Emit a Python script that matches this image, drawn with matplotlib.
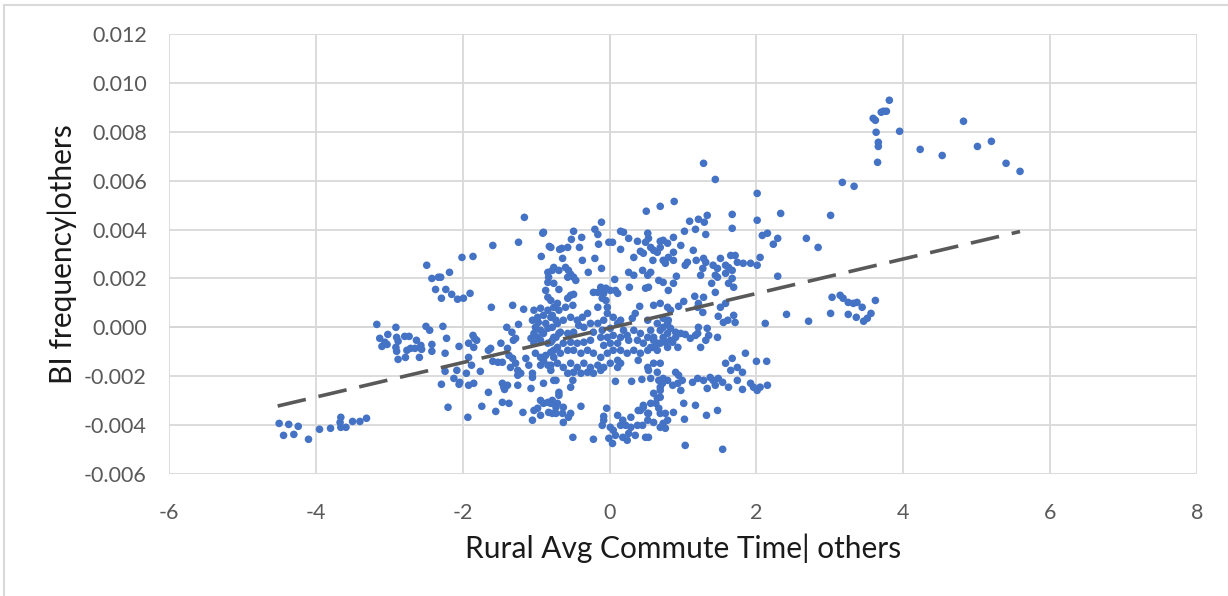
import matplotlib
matplotlib.use("Agg")
import matplotlib.pyplot as plt
from matplotlib.lines import Line2D
from matplotlib.ticker import FuncFormatter
import numpy as np

# residual scatter: rural commute time vs BI frequency (both partialled on others)

# far-left tail
tail_x = [-4.50, -4.37, -4.24, -4.44, -4.30, -4.10, -3.95, -3.80, -3.66, -3.67,
          -3.66, -3.59, -3.50, -3.40, -3.31]
tail_y = [-0.00393, -0.00397, -0.00405, -0.00442, -0.00438, -0.00458, -0.00417,
          -0.00413, -0.00368, -0.00389, -0.00409, -0.00409, -0.00385, -0.00385,
          -0.00372]

# left group, x from about -3.2 to -2.3
left_x = [-2.49, -2.42, -2.33, -2.37, -3.17, -2.91, -2.50, -2.45, -3.13, -3.02,
          -3.06, -3.10, -3.03, -2.90, -2.88, -2.91, -2.90, -2.79, -2.73, -2.76,
          -2.71, -2.63, -2.65, -2.57, -2.56, -2.78, -2.88, -2.59, -2.42, -2.42]
left_y = [0.00254, 0.00200, 0.00205, 0.00155, 0.00012, 0.00000, 0.00004, -0.00012,
          -0.00045, -0.00029, -0.00061, -0.00078, -0.00070, -0.00041, -0.00057,
          -0.00082, -0.00098, -0.00037, -0.00037, -0.00094, -0.00086, -0.00053,
          -0.00086, -0.00074, -0.00090, -0.00123, -0.00131, -0.00123, -0.00070,
          -0.00098]

# x from about -2.3 to -0.7
mid_left_x = [-1.16, -0.90, -0.91, -1.59, -1.24, -0.82, -2.01, -1.86, -0.93, -0.68,
              -2.18, -2.30, -2.23, -2.15, -2.07, -1.99, -1.90, -2.29, -1.61, -1.32,
              -1.17, -1.24, -1.40, -2.27, -2.22, -2.05, -1.86, -1.84, -1.92, -1.85,
              -1.81, -2.24, -1.92, -1.88, -2.08, -1.95, -2.24, -2.12, -2.04, -2.05,
              -1.92, -1.85, -1.76, -2.29, -1.65, -1.62, -1.48, -1.59, -1.52, -1.46,
              -1.33, -1.31, -1.28, -1.39, -1.37, -1.32, -1.28, -1.35, -1.25, -1.21,
              -1.25, -1.46, -1.44, -1.43, -1.39, -1.25, -1.65, -2.20, -1.93, -1.74,
              -1.55, -1.46, -1.37, -1.18, -1.10, -1.14,
              -1.03, -0.94, -0.84, -0.90, -0.98, -1.05, -0.97, -1.01, -0.94, -1.03,
              -0.98, -0.90, -0.84, -0.87, -0.78, -0.73, -0.80, -0.84, -0.87, -0.76,
              -0.83, -0.78, -0.76, -0.69, -0.84, -0.84, -1.07, -1.03, -0.94, -0.84,
              -0.78, -0.73, -0.69, -1.01, -0.94, -0.90, -0.84, -0.80, -0.94, -0.87,
              -0.76, -0.71, -0.80, -1.05, -1.05, -0.90, -0.73, -0.69, -0.94, -0.90,
              -0.84, -0.78, -0.71, -1.03, -0.98, -0.94, -1.05, -0.83, -0.73, -1.07]
mid_left_y = [0.00450, 0.00389, 0.00385, 0.00335, 0.00348, 0.00331, 0.00286, 0.00290,
              0.00290, 0.00319, 0.00225, 0.00205, 0.00155, 0.00135, 0.00115, 0.00119,
              0.00139, 0.00119, 0.00082, 0.00090, 0.00074, 0.00012, 0.00000, 0.00004,
              -0.00045, -0.00078, -0.00033, -0.00045, -0.00065, -0.00082, -0.00053,
              -0.00106, -0.00123, -0.00155, -0.00176, -0.00188, -0.00180, -0.00209,
              -0.00225, -0.00233, -0.00237, -0.00229, -0.00180, -0.00233, -0.00094,
              -0.00086, -0.00065, -0.00139, -0.00143, -0.00143, -0.00020, -0.00053,
              -0.00045, -0.00086, -0.00115, -0.00127, -0.00147, -0.00164, -0.00176,
              -0.00188, -0.00196, -0.00229, -0.00245, -0.00254, -0.00237, -0.00237,
              -0.00266, -0.00327, -0.00368, -0.00323, -0.00344, -0.00307, -0.00311,
              -0.00348, -0.00155, -0.00127,
              0.00070, 0.00078, 0.00070, 0.00049, 0.00041, 0.00029, 0.00020, 0.00000,
              -0.00012, -0.00025, -0.00041, -0.00025, -0.00004, 0.00016, 0.00049,
              0.00029, 0.00110, 0.00123, 0.00151, 0.00180, 0.00205, 0.00233, 0.00245,
              0.00233, 0.00184, 0.00225, -0.00045, -0.00065, -0.00053, -0.00065,
              -0.00053, -0.00041, -0.00025, -0.00106, -0.00123, -0.00135, -0.00155,
              -0.00176, -0.00155, -0.00115, -0.00123, -0.00147, -0.00102, -0.00188,
              -0.00205, -0.00229, -0.00217, -0.00266, -0.00299, -0.00311, -0.00307,
              -0.00299, -0.00311, -0.00340, -0.00331, -0.00360, -0.00380, -0.00348,
              -0.00352, -0.00250]

# central group, x from about -0.7 to 0.8
center_x = [0.50, 0.69, -0.11, -0.49, -0.20, -0.16, 0.15, 0.19, -0.01, 0.04,
            0.26, 0.15, 0.38, 0.52, 0.53, 0.49, 0.69, 0.73, 0.79, -0.52,
            -0.38, -0.41, -0.65, -0.57, -0.80, -0.15, -0.64, -0.37, -0.20, 0.33,
            0.42, 0.46, 0.56, 0.60, 0.65, 0.73, 0.76, 0.59, 0.69, -0.60,
            -0.56, -0.53, -0.46, -0.49, -0.57, -0.29, -0.11, 0.26, 0.33, 0.45,
            0.52, 0.56, -0.69, 0.07, 0.27, 0.49, 0.67, 0.73, 0.53, 0.60,
            0.41, -0.12, -0.05, 0.01, 0.08, 0.11, -0.08, -0.16, -0.22, -0.10,
            -0.05, -0.03, -0.53, -0.49, -0.57, -0.60, -0.50, -0.71, -0.69, -0.76,
            -0.80, -0.16, 0.35, 0.31, 0.73, 0.65, 0.79, 0.52, 0.56, 0.69,
            0.60, 0.73, 0.69, 0.59, 0.79, 0.65,
            -0.30, -0.37, -0.44, -0.53, -0.63, -0.71, -0.78, -0.26, -0.35, -0.42,
            -0.49, -0.57, -0.67, -0.76, -0.80, -0.22, -0.16, -0.08, -0.03, 0.05,
            0.11, 0.15, 0.19, 0.01, -0.10, -0.12, -0.03, 0.05, 0.15, 0.24,
            0.26, 0.11, 0.01, -0.08, -0.26, -0.35, -0.44, -0.53, -0.63, -0.71,
            -0.76, -0.67, -0.57, -0.49, -0.39, -0.30, -0.22, -0.12, -0.03, 0.05,
            0.15, 0.24, 0.11, 0.01, -0.08, -0.16, -0.26, -0.35, -0.44, -0.53,
            -0.63, -0.80, -0.57, -0.49, -0.39, -0.30, -0.22, -0.12, 0.11, 0.15,
            -0.76, -0.53, -0.50,
            0.33, 0.42, 0.52, 0.60, 0.79, 0.38, 0.46, 0.56, 0.65, 0.83,
            0.33, 0.42, 0.52,
            0.08, 0.30, 0.44, 0.56, 0.67, 0.69, 0.79, 0.39, 0.52, 0.60,
            0.53, 0.65]
center_y = [0.00475, 0.00495, 0.00430, 0.00393, 0.00401, 0.00380, 0.00393, 0.00389,
            0.00348, 0.00348, 0.00364, 0.00319, 0.00352, 0.00385, 0.00364, 0.00348,
            0.00352, 0.00356, 0.00344, 0.00360, 0.00368, 0.00327, 0.00323, 0.00327,
            0.00327, 0.00340, 0.00282, 0.00274, 0.00282, 0.00286, 0.00311, 0.00303,
            0.00327, 0.00315, 0.00307, 0.00274, 0.00262, 0.00274, 0.00327, 0.00245,
            0.00233, 0.00217, 0.00192, 0.00205, 0.00205, 0.00225, 0.00241, 0.00225,
            0.00213, 0.00233, 0.00213, 0.00225, 0.00155, 0.00196, 0.00164, 0.00160,
            0.00192, 0.00184, 0.00164, 0.00090, 0.00086, 0.00164, 0.00160, 0.00151,
            0.00151, 0.00139, 0.00139, 0.00143, 0.00143, 0.00119, 0.00110, 0.00082,
            0.00131, 0.00135, 0.00119, 0.00082, 0.00090, 0.00098, 0.00070, 0.00082,
            0.00041, 0.00082, 0.00057, 0.00037, 0.00037, 0.00016, 0.00016, 0.00029,
            -0.00012, -0.00012, -0.00041, -0.00041, -0.00065, -0.00082, -0.00082,
            -0.00094,
            0.00057, 0.00041, 0.00029, 0.00041, 0.00029, 0.00016, 0.00000, 0.00016,
            0.00000, 0.00008, -0.00020, -0.00025, -0.00020, -0.00041, -0.00061,
            -0.00020, 0.00016, 0.00029, 0.00057, 0.00041, 0.00016, 0.00029, -0.00012,
            -0.00004, -0.00012, -0.00041, -0.00041, -0.00033, -0.00041, -0.00033,
            -0.00053, -0.00065, -0.00065, -0.00074, -0.00053, -0.00061, -0.00065,
            -0.00061, -0.00065, -0.00082, -0.00094, -0.00106, -0.00094, -0.00094,
            -0.00106, -0.00094, -0.00106, -0.00123, -0.00106, -0.00094, -0.00094,
            -0.00106, -0.00135, -0.00147, -0.00164, -0.00155, -0.00164, -0.00147,
            -0.00164, -0.00147, -0.00164, -0.00155, -0.00188, -0.00184, -0.00188,
            -0.00184, -0.00188, -0.00176, -0.00164, -0.00147, -0.00217, -0.00245,
            -0.00217,
            -0.00012, -0.00025, -0.00041, -0.00053, -0.00025, -0.00053, -0.00065,
            -0.00082, -0.00065, -0.00053, -0.00094, -0.00106, -0.00094,
            -0.00221, -0.00221, -0.00213, -0.00209, -0.00217, -0.00245, -0.00217,
            -0.00135, -0.00164, -0.00147, -0.00176, -0.00184]

# lower band below the centre, down to about -0.005
low_x = [-0.69, -0.80, -0.73, -0.63, -0.78, -0.64, -0.53, -0.56, -0.63, -0.39,
         0.60, 0.65, 0.63, 0.67, 0.69, 0.76, 0.56, 0.46, 0.42, 0.52,
         0.73, 0.69, 0.60, 0.76, 0.79,
         -0.04, -0.08, -0.08, -0.10, 0.01, 0.05, 0.08, -0.01, 0.04, 0.11,
         0.18, 0.15, 0.22, 0.29, 0.26, 0.18, 0.24, 0.38, 0.35, 0.49,
         0.53, 0.45, 0.52, 0.29, 0.39, 0.46, 0.53, -0.50, -0.22]
low_y = [-0.00278, -0.00311, -0.00327, -0.00327, -0.00352, -0.00352, -0.00352,
         -0.00368, -0.00389, -0.00323,
         -0.00270, -0.00290, -0.00311, -0.00331, -0.00352, -0.00352, -0.00311,
         -0.00319, -0.00340, -0.00352,
         -0.00393, -0.00409, -0.00389, -0.00413, -0.00380,
         -0.00331, -0.00364, -0.00380, -0.00401, -0.00409, -0.00421, -0.00442,
         -0.00454, -0.00475, -0.00360, -0.00380, -0.00401, -0.00401, -0.00409,
         -0.00434, -0.00450, -0.00462, -0.00401, -0.00442, -0.00450, -0.00450,
         -0.00401, -0.00380, -0.00368, -0.00340, -0.00327, -0.00352, -0.00450,
         -0.00458]

# x from about 0.7 to 2.4
right_x = [1.28, 1.44, 2.01, 0.88, 2.01, 2.33, 1.67, 1.67, 1.09, 1.21,
           1.29, 1.33, 1.17, 1.02, 1.31, 0.87, 0.97, 2.08, 2.15, 2.29,
           2.23, 1.14, 0.87, 0.80, 0.87, 1.18, 1.28, 1.31, 1.51, 1.65,
           1.71, 1.74, 1.82, 1.92, 2.01, 2.05, 1.41, 1.47, 1.58, 1.62,
           1.06, 1.03, 1.27, 1.24, 1.44, 1.58, 1.67, 1.67, 1.47, 0.91,
           0.87, 0.80, 1.39, 1.62, 1.69, 2.29, 1.44, 1.16, 1.28, 1.21,
           1.20, 1.27, 1.01, 0.94, 1.51, 1.58, 1.48, 1.55, 1.61, 1.69,
           1.71, 2.12, 0.69, 0.79, 0.83,
           0.80, 0.73, 0.83, 0.90, 0.97, 1.03, 0.90, 0.76, 0.86, 0.93,
           1.10, 1.17, 1.21, 1.20, 1.33, 1.35, 1.31, 1.47, 1.24,
           0.69, 0.72, 0.69, 0.69, 0.87, 1.01, 1.17, 1.02, 1.32, 1.47,
           1.03, 1.54,
           0.90, 0.94, 0.99, 0.93, 0.86, 0.73, 0.97, 1.13, 1.20, 1.28,
           1.33, 1.37, 1.41, 1.44, 1.48, 1.54, 1.62, 1.74, 1.81, 1.81,
           1.92, 1.96, 2.01, 2.05, 2.15, 1.58, 1.67, 1.65, 1.74, 1.85,
           2.00, 2.14]
right_y = [0.00671, 0.00605, 0.00548, 0.00515, 0.00438, 0.00466, 0.00462, 0.00405,
           0.00434, 0.00442, 0.00430, 0.00458, 0.00401, 0.00393, 0.00380, 0.00368,
           0.00335, 0.00376, 0.00385, 0.00364, 0.00340, 0.00315, 0.00307, 0.00286,
           0.00274, 0.00274, 0.00282, 0.00266, 0.00282, 0.00294, 0.00294, 0.00266,
           0.00262, 0.00262, 0.00254, 0.00286, 0.00254, 0.00241, 0.00254, 0.00245,
           0.00266, 0.00254, 0.00241, 0.00213, 0.00213, 0.00221, 0.00233, 0.00200,
           0.00205, 0.00209, 0.00180, 0.00151, 0.00180, 0.00180, 0.00164, 0.00209,
           0.00143, 0.00127, 0.00123, 0.00098, 0.00082, 0.00061, 0.00106, 0.00086,
           0.00082, 0.00098, 0.00045, 0.00020, 0.00029, 0.00049, 0.00020, 0.00016,
           0.00098, 0.00082, 0.00070,
           0.00029, 0.00000, -0.00004, -0.00020, -0.00025, -0.00029, -0.00041,
           -0.00061, -0.00061, -0.00082, -0.00045, -0.00033, 0.00000, -0.00025,
           -0.00004, -0.00033, -0.00053, -0.00041, -0.00082,
           -0.00147, -0.00229, -0.00258, -0.00286, -0.00348, -0.00311, -0.00319,
           -0.00376, -0.00360, -0.00340, -0.00483, -0.00499,
           -0.00184, -0.00196, -0.00217, -0.00229, -0.00237, -0.00209, -0.00258,
           -0.00225, -0.00209, -0.00217, -0.00250, -0.00205, -0.00217, -0.00237,
           -0.00209, -0.00225, -0.00245, -0.00217, -0.00184, -0.00254, -0.00229,
           -0.00245, -0.00258, -0.00245, -0.00237, -0.00147, -0.00127, -0.00176,
           -0.00164, -0.00106, -0.00139, -0.00139]

# far-right points, x above 2.4
far_x = [3.81, 3.70, 3.73, 3.77, 3.59, 3.62, 3.63, 3.95, 3.66, 3.66,
         3.65, 3.17, 3.33, 4.82, 4.23, 4.53, 5.01, 5.20, 5.40, 5.59,
         3.01, 2.68, 2.84, 3.03, 3.14, 3.18, 3.25, 3.32, 3.37, 3.44,
         3.62, 2.41, 2.71, 3.01, 3.25, 3.36, 3.46, 3.51, 3.56]
far_y = [0.00929, 0.00880, 0.00884, 0.00884, 0.00855, 0.00847, 0.00798, 0.00802,
         0.00757, 0.00740, 0.00675, 0.00593, 0.00577, 0.00843, 0.00728, 0.00703,
         0.00740, 0.00761, 0.00671, 0.00638, 0.00458, 0.00364, 0.00327, 0.00123,
         0.00131, 0.00119, 0.00102, 0.00098, 0.00102, 0.00082, 0.00110, 0.00053,
         0.00025, 0.00057, 0.00053, 0.00041, 0.00025, 0.00037, 0.00057]

# linear trend line end points
trend_x = [-4.52, 5.59]
trend_y = [-0.00322, 0.00392]

commute = np.concatenate([tail_x, left_x, mid_left_x, center_x, low_x, right_x, far_x])
bi_freq = np.concatenate([tail_y, left_y, mid_left_y, center_y, low_y, right_y, far_y])

plt.rcParams['font.family'] = ['Lato', 'DejaVu Sans']

fig = plt.figure(figsize=(12.28, 5.96), dpi=100)
ax = fig.add_axes([169 / 1228, 1 - 474 / 596, 1028 / 1228, 440 / 596])

ax.set_xlim(-6, 8)
ax.set_ylim(-0.006, 0.012)
ax.set_xticks(np.arange(-6, 9, 2))
ax.set_yticks(np.arange(-0.006, 0.0121, 0.002))
ax.xaxis.set_major_formatter(FuncFormatter(lambda v, p: f"{v:.0f}".replace("\u2212", "-")))
ax.yaxis.set_major_formatter(FuncFormatter(lambda v, p: f"{v:.3f}" if abs(v) > 1e-9 else "0.000"))

ax.grid(True, color='#d9d9d9', linewidth=1.3, zorder=0)
ax.axhline(0, color='#bfbfbf', linewidth=1.3, zorder=1)
ax.axvline(0, color='#bfbfbf', linewidth=1.3, zorder=1)
for s in ax.spines.values():
    s.set_visible(False)
ax.tick_params(length=0, labelsize=15.5, labelcolor='#595959')
ax.tick_params(axis='x', pad=21)
ax.tick_params(axis='y', pad=16)

ax.scatter(commute, bi_freq, s=30, color='#4472c4', edgecolors='none', zorder=3)
ax.plot(trend_x, trend_y, color='#595959', linewidth=2.6,
        dashes=(8, 3.6), dash_capstyle='butt', zorder=4)

ax.set_xlabel("Rural Avg Commute Time| others", fontsize=21.5, color='#1a1a1a', va='center')
ax.xaxis.set_label_coords(0.5, -0.168)
ax.set_ylabel("BI frequency|others", fontsize=21.5, color='#1a1a1a', va='center')
ax.yaxis.set_label_coords(-0.104, 0.5)

# chart frame
fig.add_artist(Line2D([3.5 / 1228, 3.5 / 1228], [0, 1 - 4.7 / 596], color='#d9d9d9', linewidth=1.5))
fig.add_artist(Line2D([3.5 / 1228, 1], [1 - 4.7 / 596, 1 - 4.7 / 596], color='#d9d9d9', linewidth=1.5))

fig.savefig("out.png", dpi=100)
